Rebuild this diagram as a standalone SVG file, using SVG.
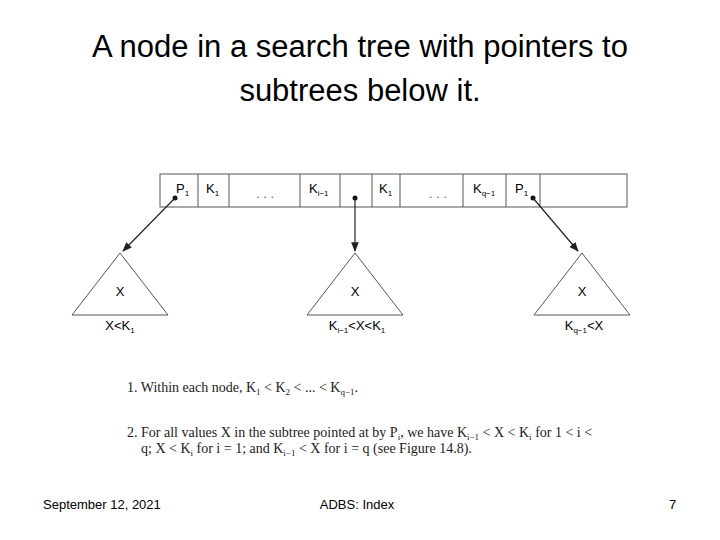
<svg xmlns="http://www.w3.org/2000/svg" width="720" height="540" viewBox="0 0 720 540">
<style>
.t{font-family:"Liberation Sans",Arial,sans-serif;fill:#000}
.c{fill:#fff;stroke:#555;stroke-width:1}
.s{font-family:"Liberation Serif","Times New Roman",serif;font-size:14px;fill:#222}
.ln{stroke:#222;stroke-width:1.2;fill:none}
</style>
<defs><marker id="ah" viewBox="0 0 10 10" refX="9" refY="5" markerWidth="8" markerHeight="8" orient="auto"><path d="M0,1 L10,5 L0,9 z" fill="#222"/></marker></defs>
<rect width="720" height="540" fill="#fff"/>
<text class="t" x="360" y="57" font-size="31" text-anchor="middle">A node in a search tree with pointers to</text>
<text class="t" x="360" y="101" font-size="31" text-anchor="middle">subtrees below it.</text>
<g id="node">
<rect class="c" x="160" y="174" width="467" height="33"/>
<g class="ln" style="stroke:#555;stroke-width:1"><path d="M198,174V207M229,174V207M300,174V207M340,174V207M372,174V207M400,174V207M463,174V207M506,174V207M540,174V207"/></g>
<g class="t" font-size="13">
<text x="176" y="193">P<tspan font-size="8" dy="3">1</tspan></text>
<text x="206" y="193">K<tspan font-size="8" dy="3">1</tspan></text>
<text x="265" y="198" text-anchor="middle" fill="#666">. . .</text>
<text x="309" y="193">K<tspan font-size="8" dy="3">i−1</tspan></text>
<text x="379" y="193">K<tspan font-size="8" dy="3">1</tspan></text>
<text x="438" y="198" text-anchor="middle" fill="#666">. . .</text>
<text x="473" y="193">K<tspan font-size="8" dy="3">q−1</tspan></text>
<text x="515" y="193">P<tspan font-size="8" dy="3">1</tspan></text>
</g>
</g>
<g id="t1"><path class="c" d="M120,253 L168,315 L72,315 Z"/><text class="t" x="120" y="296" font-size="13" text-anchor="middle">X</text><text class="t" x="120" y="330" font-size="13" text-anchor="middle">X&lt;K<tspan font-size="8" dy="3">1</tspan></text></g>
<g id="t2"><path class="c" d="M355,253 L403,315 L307,315 Z"/><text class="t" x="355" y="296" font-size="13" text-anchor="middle">X</text><text class="t" x="357" y="330" font-size="13" text-anchor="middle">K<tspan font-size="8" dy="3">i−1</tspan><tspan dy="-3">&lt;X&lt;K</tspan><tspan font-size="8" dy="3">1</tspan></text></g>
<g id="t3"><path class="c" d="M582,253 L630,315 L534,315 Z"/><text class="t" x="582" y="296" font-size="13" text-anchor="middle">X</text><text class="t" x="584" y="330" font-size="13" text-anchor="middle">K<tspan font-size="8" dy="3">q−1</tspan><tspan dy="-3">&lt;X</tspan></text></g>
<g id="connectors">
<circle cx="175" cy="198" r="2.5" fill="#111"/><circle cx="355" cy="198" r="2.5" fill="#111"/><circle cx="533" cy="198" r="2.5" fill="#111"/>
<path class="ln" d="M175,198 L123,251" marker-end="url(#ah)"/>
<path class="ln" d="M355,198 L355,251" marker-end="url(#ah)"/>
<path class="ln" d="M533,198 L578,251" marker-end="url(#ah)"/>
</g>
<text class="s" x="127" y="392">1. Within each node, K<tspan font-size="9" dy="3">1</tspan><tspan dy="-3"> &lt; K</tspan><tspan font-size="9" dy="3">2</tspan><tspan dy="-3"> &lt; ... &lt; K</tspan><tspan font-size="9" dy="3">q−1</tspan><tspan dy="-3">.</tspan></text>
<text class="s" x="127" y="437">2. For all values X in the subtree pointed at by P<tspan font-size="9" dy="3">i</tspan><tspan dy="-3">, we have K</tspan><tspan font-size="9" dy="3">i−1</tspan><tspan dy="-3"> &lt; X &lt; K</tspan><tspan font-size="9" dy="3">i</tspan><tspan dy="-3"> for 1 &lt; i &lt;</tspan></text>
<text class="s" x="141" y="453">q; X &lt; K<tspan font-size="9" dy="3">i</tspan><tspan dy="-3"> for i = 1; and K</tspan><tspan font-size="9" dy="3">i−1</tspan><tspan dy="-3"> &lt; X for i = q (see Figure 14.8).</tspan></text>
<g class="t" font-size="13"><text x="43" y="509">September 12, 2021</text><text x="357" y="509" text-anchor="middle">ADBS: Index</text><text x="669" y="509">7</text></g>
</svg>
